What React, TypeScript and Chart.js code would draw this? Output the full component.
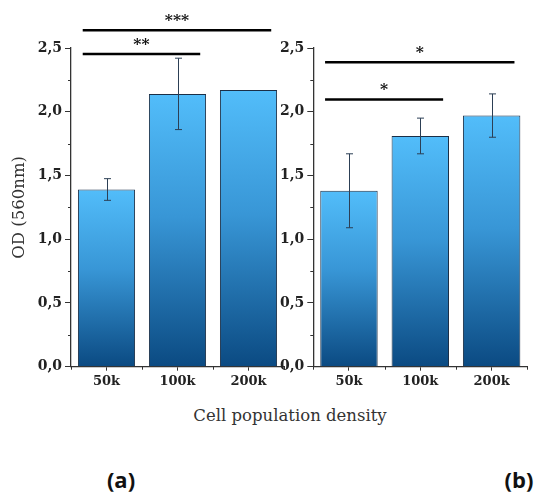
import React, { useEffect, useRef } from 'react';
import { Chart, registerables } from 'chart.js';
Chart.register(...registerables);

const categories = ['50k', '100k', '200k'];
const leftValues = [1.39, 2.14, 2.17];
const leftErrors = [0.085, 0.28, 0];
const rightValues = [1.38, 1.81, 1.97];
const rightErrors = [0.29, 0.14, 0.17];
const yMin = 0;
const yMax = 2.5;
const yStep = 0.25;
const leftSigFrom = [0, 0];
const leftSigTo = [2, 1];
const leftSigLevel = [2.64, 2.453];
const leftSigLabel = ['***', '**'];
const rightSigFrom = [0, 0];
const rightSigTo = [2, 1];
const rightSigLevel = [2.388, 2.096];
const rightSigLabel = ['*', '*'];

const SERIF = '"DejaVu Serif", "Liberation Serif", serif';

function isMajor(v: number) {
  return Math.abs(v / 0.5 - Math.round(v / 0.5)) < 1e-6;
}

function makeOverlay(errors: number[], sFrom: number[], sTo: number[], sLevel: number[], sLabel: string[]) {
  return {
    id: 'overlay',
    afterDatasetsDraw(chart: any) {
      const c = chart.ctx;
      const x = chart.scales.x;
      const y = chart.scales.y;
      const values = chart.data.datasets[0].data as number[];
      const n = values.length;
      const cw = (x.right - x.left) / n;
      c.save();
      // error bars
      c.strokeStyle = '#2c3f55';
      c.lineWidth = 1;
      values.forEach((v, i) => {
        const e = errors[i];
        if (!e) return;
        const px = Math.round(x.getPixelForValue(i)) + 0.5;
        const yt = y.getPixelForValue(v + e);
        const yb = y.getPixelForValue(v - e);
        c.beginPath();
        c.moveTo(px, yt);
        c.lineTo(px, yb);
        c.moveTo(px - 3.5, yt);
        c.lineTo(px + 3.5, yt);
        c.moveTo(px - 3.5, yb);
        c.lineTo(px + 3.5, yb);
        c.stroke();
      });
      // minor ticks y
      c.strokeStyle = '#333';
      c.lineWidth = 1;
      for (let v = yMin; v <= yMax + 1e-9; v += yStep) {
        if (isMajor(v)) continue;
        const py = Math.round(y.getPixelForValue(v)) + 0.5;
        c.beginPath();
        c.moveTo(x.left - 3, py);
        c.lineTo(x.left, py);
        c.stroke();
      }
      // minor ticks x (category boundaries)
      for (let i = 0; i <= n; i++) {
        const px = Math.round(x.left + i * cw) + 0.5;
        c.beginPath();
        c.moveTo(px, y.bottom);
        c.lineTo(px, y.bottom + 3);
        c.stroke();
      }
      // significance
      c.strokeStyle = '#000';
      c.fillStyle = '#111';
      c.lineWidth = 2.5;
      c.font = 'bold 15.5px ' + SERIF;
      c.textAlign = 'center';
      c.textBaseline = 'middle';
      sLevel.forEach((lv, k) => {
        const x1 = x.getPixelForValue(sFrom[k]) - 0.335 * cw;
        const x2 = x.getPixelForValue(sTo[k]) + 0.32 * cw;
        const py = y.getPixelForValue(lv);
        c.beginPath();
        c.moveTo(x1, py);
        c.lineTo(x2, py);
        c.stroke();
        c.fillText(sLabel[k], (x1 + x2) / 2, py - 9.5);
      });
      c.restore();
    },
  };
}

function barGradient(values: number[]) {
  return (ctx: any) => {
    const chart = ctx.chart;
    const { chartArea, scales } = chart;
    if (!chartArea || ctx.type !== 'data' || !scales.y) return '#3590d2';
    const v = values[ctx.dataIndex];
    const yt = scales.y.getPixelForValue(v);
    const yb = scales.y.getPixelForValue(0);
    const g = chart.ctx.createLinearGradient(0, yt, 0, yb);
    g.addColorStop(0, '#52bdfa');
    g.addColorStop(0.45, '#3896d6');
    g.addColorStop(1, '#0b4a82');
    return g;
  };
}

function makeConfig(values: number[], errors: number[], sFrom: number[], sTo: number[], sLevel: number[], sLabel: string[], yWidth: number, padRight: number, showTitle: boolean, canvasH: number, axisBottom: number) {
  return {
    type: 'bar' as const,
    data: {
      labels: categories,
      datasets: [
        {
          data: values,
          backgroundColor: barGradient(values),
          borderColor: '#1b2f47',
          borderWidth: 1,
          categoryPercentage: 0.805,
          barPercentage: 1,
        },
      ],
    },
    options: {
      animation: false,
      responsive: false,
      maintainAspectRatio: false,
      layout: { padding: { top: 48, right: padRight, left: 0, bottom: 0 } },
      plugins: { legend: { display: false }, tooltip: { enabled: false } },
      scales: {
        x: {
          offset: true,
          grid: { display: true, drawOnChartArea: false, offset: false, tickLength: 4, color: '#333', tickColor: '#333' },
          border: { display: true, color: '#333', width: 1.3 },
          ticks: { color: '#222', font: { family: SERIF, size: 13, weight: 'bold' }, padding: 3, autoSkip: false, maxRotation: 0 },
          afterFit: (s: any) => { s.height = canvasH - axisBottom; },
        },
        y: {
          min: yMin,
          max: yMax,
          grid: {
            display: true,
            drawOnChartArea: false,
            tickLength: 6,
            tickColor: (c: any) => (c.tick && isMajor(c.tick.value) ? '#333' : 'rgba(0,0,0,0)'),
          },
          border: { display: true, color: '#333', width: 1.3 },
          ticks: {
            stepSize: yStep,
            autoSkip: false,
            color: '#222',
            padding: 3,
            font: { family: SERIF, size: 14, weight: 'bold' },
            callback: (v: any) => (isMajor(Number(v)) ? Number(v).toFixed(1).replace('.', ',') : ''),
          },
          title: {
            display: showTitle,
            text: 'OD (560nm)',
            color: '#333',
            font: { family: SERIF, size: 16.5, weight: 'normal' },
            padding: { top: 10, bottom: 0 },
          },
          afterFit: (s: any) => { s.width = yWidth; },
        },
      },
    },
    plugins: [makeOverlay(errors, sFrom, sTo, sLevel, sLabel)],
  };
}

const CH = 392;
const AXIS_BOTTOM = 366.7;

export default function App() {
  const leftRef = useRef<HTMLCanvasElement>(null);
  const rightRef = useRef<HTMLCanvasElement>(null);
  useEffect(() => {
    const a = new Chart(leftRef.current as HTMLCanvasElement, makeConfig(leftValues, leftErrors, leftSigFrom, leftSigTo, leftSigLevel, leftSigLabel, 71, 6, true, CH, AXIS_BOTTOM) as any);
    const b = new Chart(rightRef.current as HTMLCanvasElement, makeConfig(rightValues, rightErrors, rightSigFrom, rightSigTo, rightSigLevel, rightSigLabel, 35.3, 10.7, false, CH, AXIS_BOTTOM) as any);
    return () => {
      a.destroy();
      b.destroy();
    };
  }, []);
  return (
    <div style={{ position: 'absolute', left: 0, top: 0, width: 538, height: 498, overflow: 'hidden', background: '#fff' }}>
      <canvas ref={leftRef} width={290} height={CH} style={{ position: 'absolute', left: 0, top: 0, width: 290, height: CH }} />
      <canvas ref={rightRef} width={260} height={CH} style={{ position: 'absolute', left: 278, top: 0, width: 260, height: CH }} />
      <div style={{ position: 'absolute', left: 90, top: 406, width: 400, textAlign: 'center', fontFamily: SERIF, fontSize: 16.5, lineHeight: '20px', color: '#333' }}>Cell population density</div>
      <div style={{ position: 'absolute', left: 71, top: 466, width: 100, textAlign: 'center', fontFamily: '"Open Sans", "Noto Sans", sans-serif', fontWeight: 'bold', fontSize: 22, lineHeight: '26px', color: '#111' }}>(a)</div>
      <div style={{ position: 'absolute', left: 469, top: 466, width: 100, textAlign: 'center', fontFamily: '"Open Sans", "Noto Sans", sans-serif', fontWeight: 'bold', fontSize: 22, lineHeight: '26px', color: '#111' }}>(b)</div>
    </div>
  );
}
